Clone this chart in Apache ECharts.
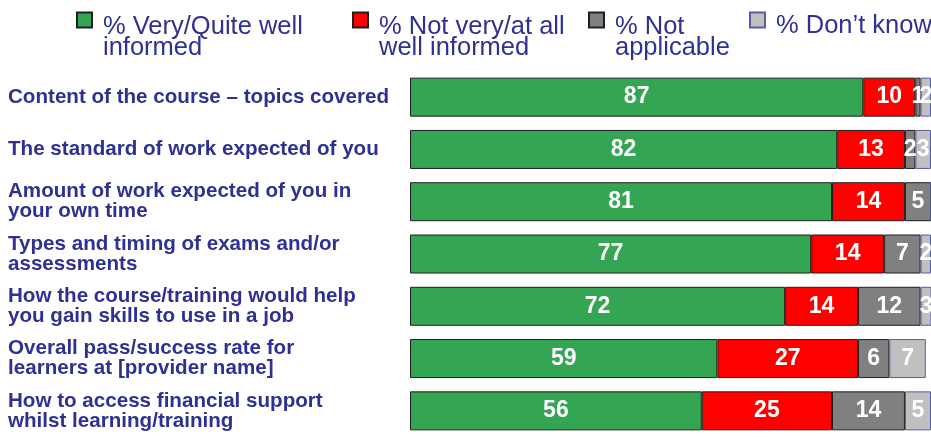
<!DOCTYPE html>
<html>
<head>
<meta charset="utf-8">
<script src="https://cdn.jsdelivr.net/npm/echarts@6/dist/echarts.min.js"></script>
<style>
html,body{margin:0;padding:0;background:#fff;}
#chart{width:931px;height:437px;}
</style>
</head>
<body>
<div id="chart"></div>
<script>
const categories = [
  "Content of the course \u2013 topics covered",
  "The standard of work expected of you",
  "Amount of work expected of you in\nyour own time",
  "Types and timing of exams and/or\nassessments",
  "How the course/training would help\nyou gain skills to use in a job",
  "Overall pass/success rate for\nlearners at [provider name]",
  "How to access financial support\nwhilst learning/training"
];
const seriesNames = [
  "% Very/Quite well\ninformed",
  "% Not very/at all\nwell informed",
  "% Not\napplicable",
  "% Don\u2019t know"
];
const wellInformed = [87, 82, 81, 77, 72, 59, 56];
const notWellInformed = [10, 13, 14, 14, 14, 27, 25];
const notApplicable = [1, 2, 5, 7, 12, 6, 14];
const dontKnow = [2, 3, 0, 2, 3, 7, 5];

const colors = ["#34A553", "#FF0000", "#808080", "#C0C0C0"];
const borders = ["#1f1f1f", "#1f1f1f", "#1f1f1f", "#5A5AA8"];
const values = [wellInformed, notWellInformed, notApplicable, dontKnow];

const textBlue = "#2E3192";
const chart = echarts.init(document.getElementById('chart'));

const legendLefts = [76, 352, 588, 749];
const legends = seriesNames.map((n, i) => {
  const lines = n.split("\n");
  const multi = lines.length > 1;
  return {
    data: [n],
    left: legendLefts[i],
    top: multi ? -18 : 4,
    padding: 0,
    itemWidth: 15,
    itemHeight: 15,
    selectedMode: false,
    icon: 'rect',
    formatter: name => (multi ? '{s1| }' : '{s2| }') + '\n' +
      name.split('\n').map(l => '{t|' + l + '}').join('\n'),
    textStyle: {
      fontFamily: "Liberation Sans, Arial, sans-serif",
      fontSize: 25,
      lineHeight: 21,
      color: textBlue,
      padding: [0, 0, 0, 6],
      rich: {
        s1: { fontSize: 8, lineHeight: 34, height: 34 },
        s2: { fontSize: 8, lineHeight: 11, height: 11 },
        t: { fontSize: 25.5, lineHeight: 21, height: 21, color: textBlue,
             fontFamily: "Liberation Sans, Arial, sans-serif" }
      }
    }
  };
});

const series = seriesNames.map((n, i) => ({
  name: n,
  type: 'bar',
  stack: 'total',
  barWidth: 39,
  data: values[i],
  itemStyle: { color: colors[i], borderColor: borders[i], borderWidth: 1 },
  label: {
    show: true,
    position: 'inside',
    color: '#fff',
    fontFamily: "Liberation Sans, Arial, sans-serif",
    fontWeight: 'bold',
    fontSize: 23,
    formatter: p => p.value === 0 ? '' : String(p.value)
  },
  emphasis: { disabled: true }
}));

chart.setOption({
  animation: false,
  legend: legends,
  grid: { left: 410, right: 0, top: 71, bottom: -6, containLabel: false },
  xAxis: {
    type: 'value', min: 0, max: 100, show: false
  },
  yAxis: {
    type: 'category',
    data: categories,
    inverse: true,
    axisLine: { show: false },
    axisTick: { show: false },
    axisLabel: {
      align: 'left',
      margin: 402,
      color: textBlue,
      fontFamily: "Liberation Sans, Arial, sans-serif",
      fontWeight: 'bold',
      fontSize: 20.6,
      lineHeight: 20
    }
  },
  series: series
});
</script>
</body>
</html>
